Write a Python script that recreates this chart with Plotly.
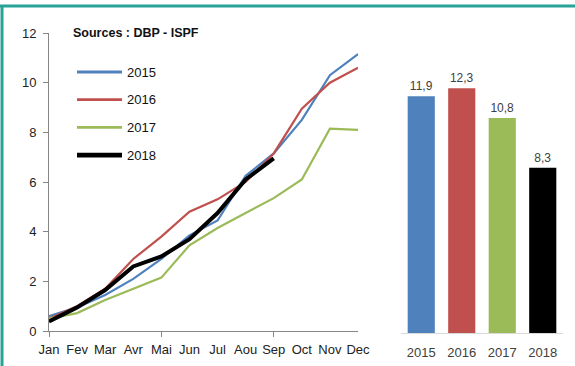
import plotly.graph_objects as go

# ---- data ----
months = ["Jan", "Fev", "Mar", "Avr", "Mai", "Jun", "Jul", "Aou", "Sep", "Oct", "Nov", "Dec"]
s2015 = [0.6, 0.95, 1.45, 2.1, 2.9, 3.85, 4.45, 6.25, 7.15, 8.5, 10.3, 11.15]
s2016 = [0.5, 1.0, 1.7, 2.9, 3.8, 4.8, 5.3, 6.0, 7.15, 8.95, 10.0, 10.6]
s2017 = [0.5, 0.72, 1.25, 1.7, 2.15, 3.45, 4.15, 4.75, 5.35, 6.1, 8.15, 8.1]
s2018 = [0.38, 0.95, 1.65, 2.6, 3.0, 3.7, 4.75, 6.1, 6.95]
years = ["2015", "2016", "2017", "2018"]
totals = [11.9, 12.3, 10.8, 8.3]

colors = ["#4F81BD", "#C0504D", "#9BBB59", "#000000"]
widths = [2.2, 2.2, 2.2, 4]
series = [s2015, s2016, s2017, s2018]

W, H = 575, 366
FONT = "Liberation Sans"


def px(x):
    return x / W


def py(y):
    return (H - y) / H


fig = go.Figure()

for name, vals, c, w in zip(years, series, colors, widths):
    fig.add_trace(go.Scatter(
        x=months[:len(vals)], y=vals, mode="lines", name=name,
        line=dict(color=c, width=w), xaxis="x", yaxis="y", showlegend=False,
    ))

# companion axis carrying the sparse tick marks (Jan, Mai, Sep)
fig.add_trace(go.Scatter(x=months, y=[None] * len(months), xaxis="x2", yaxis="y",
                         showlegend=False, hoverinfo="skip"))

fig.add_trace(go.Bar(
    x=years, y=totals, marker=dict(color=colors, line=dict(width=0)),
    texttemplate="%{y:.1f}", textposition="outside", cliponaxis=False,
    textfont=dict(family=FONT, size=12, color="#404040"),
    xaxis="x3", yaxis="y3", showlegend=False,
))

axis_grey = "#868686"
left_dom = [px(49), px(358)]
fig.update_layout(
    width=W, height=H,
    margin=dict(l=0, r=0, t=0, b=0, pad=0),
    paper_bgcolor="white", plot_bgcolor="white",
    separators=", ",
    font=dict(family=FONT, size=13, color="#222222"),
    bargap=0.33,
    xaxis=dict(
        domain=left_dom, type="category", categoryarray=months, automargin=False,
        range=[0, len(months) - 1], showline=True, linecolor=axis_grey, linewidth=1,
        ticks="", showgrid=False, zeroline=False, ticklabelstandoff=6,
        tickfont=dict(size=13, color="#222222"), anchor="y",
    ),
    xaxis2=dict(
        domain=left_dom, type="category", categoryarray=months, overlaying="x",
        range=[0, len(months) - 1], tickvals=[months[0], months[4], months[8]],
        ticks="outside", ticklen=5, tickcolor=axis_grey, showticklabels=False,
        showline=False, showgrid=False, zeroline=False, anchor="y", side="bottom",
        automargin=False,
    ),
    yaxis=dict(
        domain=[py(331), py(33)], range=[0, 12], dtick=2, automargin=False,
        showline=True, linecolor=axis_grey, linewidth=1,
        ticks="outside", ticklen=5, tickcolor=axis_grey, ticklabelstandoff=4,
        showgrid=False, zeroline=False, tickfont=dict(size=13, color="#222222"),
        anchor="x",
    ),
    xaxis3=dict(
        domain=[px(401), px(563)], showline=True, linecolor="#D9D9D9", linewidth=1,
        ticks="", showgrid=False, zeroline=False, ticklabelstandoff=7, automargin=False,
        tickfont=dict(size=13, color="#404040"), anchor="y3",
    ),
    yaxis3=dict(
        domain=[py(333), py(33)], range=[0, 300 / 19.9], visible=False, anchor="x3",
        automargin=False,
    ),
)

# teal frame along the top and left edges
shapes = [
    dict(type="line", xref="paper", yref="paper", x0=0, x1=1, y0=py(6), y1=py(6),
         line=dict(color="#27A397", width=3)),
    dict(type="line", xref="paper", yref="paper", x0=px(2), x1=px(2), y0=py(6), y1=0,
         line=dict(color="#27A397", width=3)),
]
annotations = [
    dict(text="<b>Sources : DBP - ISPF</b>", xref="paper", yref="paper",
         x=px(71), y=py(33), xanchor="left", yanchor="middle", showarrow=False,
         font=dict(family=FONT, size=12.5, color="#111111")),
]

# legend block
for i, (name, c, w) in enumerate(zip(years, colors, widths)):
    yy = 72 + i * 27.7
    shapes.append(dict(type="line", xref="paper", yref="paper", x0=px(77), x1=px(122),
                       y0=py(yy), y1=py(yy), line=dict(color=c, width=w + 0.6)))
    annotations.append(dict(text=name, xref="paper", yref="paper", x=px(125), y=py(yy),
                            xanchor="left", yanchor="middle", showarrow=False,
                            font=dict(family=FONT, size=13, color="#111111")))

fig.update_layout(shapes=shapes, annotations=annotations)

fig.write_html("out.html")
